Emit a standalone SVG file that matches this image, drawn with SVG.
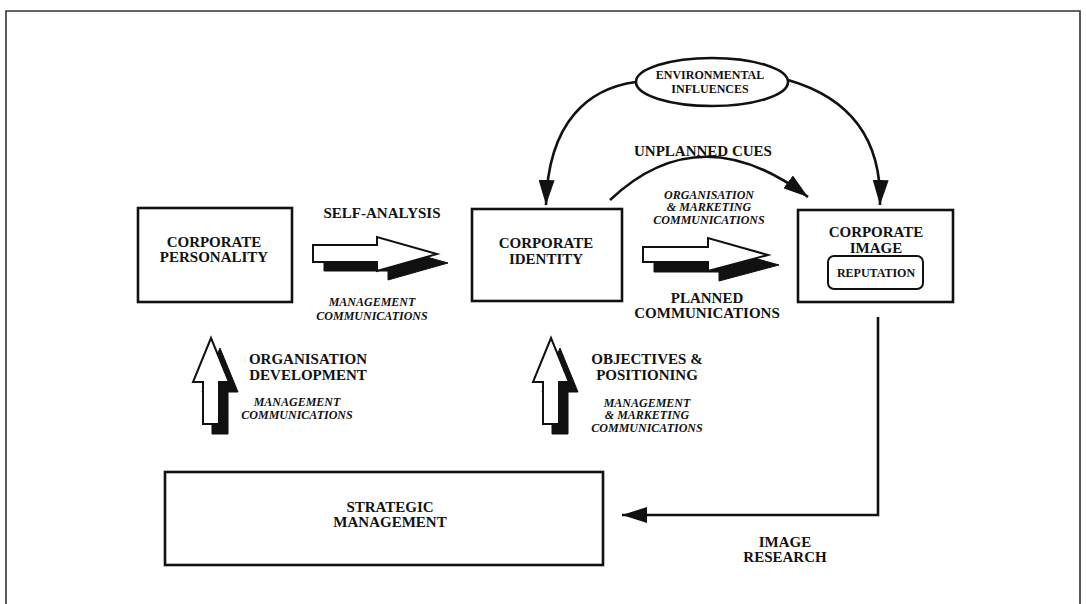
<svg xmlns="http://www.w3.org/2000/svg" width="1086" height="604" viewBox="0 0 1086 604">
<style>
.box{fill:#fff;stroke:#111;stroke-width:2.6}
.ln{fill:none;stroke:#111;stroke-width:2.6}
.sh{fill:#111;stroke:#111;stroke-width:1}
.wa{fill:#fff;stroke:#111;stroke-width:2}
.t{font-family:"Liberation Serif","Times New Roman",serif;font-weight:bold;font-size:15px;fill:#111;text-anchor:middle}
.s{font-size:12px}
.i{font-family:"Liberation Serif","Times New Roman",serif;font-weight:bold;font-style:italic;font-size:12px;fill:#111;text-anchor:middle}
</style>
<defs>
<marker id="ah" viewBox="0 0 25 16" refX="25" refY="8" markerWidth="25" markerHeight="16" markerUnits="userSpaceOnUse" orient="auto">
<path d="M0,0 L25,8 L0,16 Z" fill="#111"/>
</marker>
</defs>
<rect width="1086" height="604" fill="#fff"/>
<path d="M6,610 V11 H1080 V610" fill="none" stroke="#333" stroke-width="1.6"/>

<g id="connectors">
<path class="ln" d="M636,82 C590,88 548,120 546,205" marker-end="url(#ah)"/>
<path class="ln" d="M788,80 C840,95 882,130 880,205" marker-end="url(#ah)"/>
<path class="ln" d="M610,200 Q700,115 808,197" marker-end="url(#ah)"/>
<path class="ln" d="M878,317 V515 H622" marker-end="url(#ah)"/>
</g>

<g id="ellipse-env">
<ellipse class="box" cx="712" cy="82" rx="76" ry="24"/>
<text class="t s" x="710" y="79">ENVIRONMENTAL</text>
<text class="t s" x="710" y="93">INFLUENCES</text>
</g>

<g id="node-personality">
<rect class="box" x="138" y="208" width="154" height="94"/>
<text class="t" x="214" y="247">CORPORATE</text>
<text class="t" x="214" y="262">PERSONALITY</text>
</g>

<g id="node-identity">
<rect class="box" x="472" y="209" width="150" height="92"/>
<text class="t" x="546" y="248">CORPORATE</text>
<text class="t" x="546" y="264">IDENTITY</text>
</g>

<g id="node-image">
<rect class="box" x="798" y="210" width="155" height="92"/>
<text class="t" x="876" y="237">CORPORATE</text>
<text class="t" x="876" y="253">IMAGE</text>
<rect x="828" y="256" width="95" height="33" rx="6" fill="#fff" stroke="#111" stroke-width="2"/>
<text class="t s" x="876" y="277">REPUTATION</text>
</g>

<g id="node-strategic">
<rect class="box" x="165" y="472" width="438" height="93"/>
<text class="t" x="390" y="512">STRATEGIC</text>
<text class="t" x="390" y="527">MANAGEMENT</text>
</g>

<g id="arrow-self-analysis">
<polygon class="sh" points="324,254 388,254 388,246 448,263 388,280 388,271 324,271"/>
<polygon class="wa" points="313,245 377,245 377,237 437,254 377,271 377,262 313,262"/>
<text class="t" x="382" y="218">SELF-ANALYSIS</text>
<text class="i" x="372" y="306">MANAGEMENT</text>
<text class="i" x="372" y="320">COMMUNICATIONS</text>
</g>

<g id="arrow-planned">
<polygon class="sh" points="654,257 719,257 719,248 779,265 719,281 719,272 654,272"/>
<polygon class="wa" points="643,247 708,247 708,238 768,255 708,271 708,262 643,262"/>
<text class="i" x="709" y="199">ORGANISATION</text>
<text class="i" x="709" y="211">&amp; MARKETING</text>
<text class="i" x="709" y="224">COMMUNICATIONS</text>
<text class="t" x="707" y="303">PLANNED</text>
<text class="t" x="707" y="318">COMMUNICATIONS</text>
</g>

<g id="label-unplanned">
<text class="t" x="703" y="156">UNPLANNED CUES</text>
</g>

<g id="arrow-org-dev">
<polygon class="sh" points="220,348 238,392 228,392 228,434 212,434 212,392 202,392"/>
<polygon class="wa" points="211,338 229,382 219,382 219,424 203,424 203,382 193,382"/>
<text class="t" x="308" y="364">ORGANISATION</text>
<text class="t" x="308" y="380">DEVELOPMENT</text>
<text class="i" x="297" y="406">MANAGEMENT</text>
<text class="i" x="297" y="419">COMMUNICATIONS</text>
</g>

<g id="arrow-objectives">
<polygon class="sh" points="560,348 578,392 568,392 568,434 552,434 552,392 542,392"/>
<polygon class="wa" points="551,338 569,382 559,382 559,424 543,424 543,382 533,382"/>
<text class="t" x="647" y="364">OBJECTIVES &amp;</text>
<text class="t" x="647" y="380">POSITIONING</text>
<text class="i" x="647" y="407">MANAGEMENT</text>
<text class="i" x="647" y="419">&amp; MARKETING</text>
<text class="i" x="647" y="432">COMMUNICATIONS</text>
</g>

<g id="label-image-research">
<text class="t" x="785" y="547">IMAGE</text>
<text class="t" x="785" y="562">RESEARCH</text>
</g>
</svg>
